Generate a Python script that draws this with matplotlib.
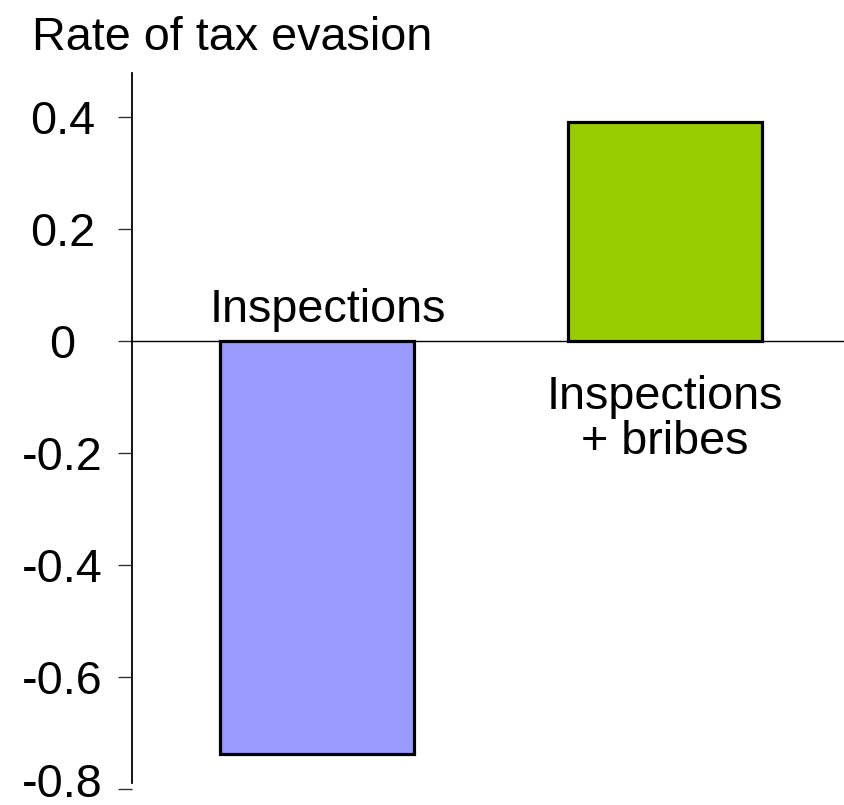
import matplotlib
matplotlib.use("Agg")
import matplotlib.pyplot as plt
from matplotlib.transforms import ScaledTranslation

plt.rcParams["font.family"] = ["Liberation Sans", "DejaVu Sans"]

# Data
categories = ["Inspections", "Inspections\n+ bribes"]
evasion_rate = [-0.737, 0.391]
bar_colors = ["#9999FF", "#99CC00"]
tick_values = [0.4, 0.2, 0.0, -0.2, -0.4, -0.6, -0.8]
tick_labels = ["0.4", "0.2", "0", "-0.2", "-0.4", "-0.6", "-0.8"]

W, H = 844, 805
fig = plt.figure(figsize=(W / 100, H / 100), dpi=100)

# axes box in pixel terms: left 132, right 844, top 73, bottom 795
ax = fig.add_axes([132 / W, (H - 795) / H, (844 - 132) / W, (795 - 73) / H])

x = [0, 1]
ax.bar(x, evasion_rate, width=0.557, color=bar_colors, edgecolor="black",
       linewidth=2.3, zorder=3)
ax.axhline(0, color="black", linewidth=1.0, zorder=2)

ax.set_xlim(-0.532, 1.514)
ax.set_ylim(-0.811, 0.479)

for s in ["top", "right", "bottom"]:
    ax.spines[s].set_visible(False)
ax.spines["left"].set_bounds(-0.789, 0.479)
ax.spines["left"].set_linewidth(1.3)
ax.set_xticks([])

fs = 33.7
ax.set_yticks(tick_values)
ax.set_yticklabels(tick_labels)
ax.tick_params(axis="y", direction="out", length=10, width=1.0,
               color="#333333", labelsize=fs, pad=40)
for lbl in ax.get_yticklabels():
    lbl.set_horizontalalignment("center")

# lift the bottom tick label so it stays inside the figure
bottom_lbl = ax.get_yticklabels()[-1]
bottom_lbl.set_transform(bottom_lbl.get_transform()
                         + ScaledTranslation(0, 9 / 100, fig.dpi_scale_trans))

# Category labels
ax.text(x[0] + 0.03, 0.034, categories[0], ha="center", va="baseline",
        fontsize=fs)
ax.text(x[1], -0.061, categories[1], ha="center", va="top", fontsize=fs,
        linespacing=1.02)

fig.text(32 / W, 1 - 50 / H, "Rate of tax evasion", ha="left",
         va="baseline", fontsize=fs)

fig.savefig("out.png", dpi=100)
